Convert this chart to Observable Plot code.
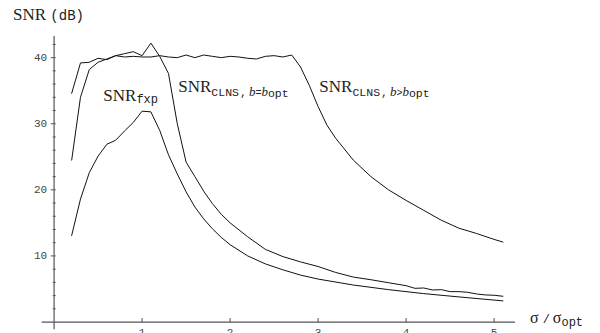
<!DOCTYPE html>
<html><head><meta charset="utf-8">
<script src="https://cdn.jsdelivr.net/npm/d3@7"></script>
<script src="https://cdn.jsdelivr.net/npm/@observablehq/plot@0.6"></script>
<style>body{margin:0;background:#fff} svg{display:block}</style>
</head><body><div id="chart"></div>
<script>
// SNR_fxp
const fxpX = [0.2,0.3,0.4,0.5,0.6,0.7,0.8,0.9,1.0,1.1,1.2,1.3,1.4,1.5,1.6,1.7,1.8,1.9,2.0,2.2,2.4,2.6,2.8,3.0,3.4,3.8,4.2,4.6,5.1];
const fxpY = [13.1,18.6,22.6,25.1,26.9,27.5,28.9,30.2,31.9,31.8,29.0,25.3,22.4,19.7,17.4,15.6,14.1,12.8,11.7,10.0,8.8,7.9,7.1,6.5,5.6,4.9,4.3,3.8,3.2];
// SNR_CLNS, b = b_opt
const optX = [0.2,0.3,0.4,0.5,0.6,0.7,0.8,0.9,1.0,1.1,1.2,1.3,1.4,1.5,1.6,1.7,1.8,1.9,2.0,2.2,2.4,2.6,2.8,3.0,3.2,3.4,3.6,3.8,4.0,4.1,4.2,4.3,4.4,4.5,4.6,4.7,4.8,4.9,5.0,5.1];
const optY = [24.5,34.0,38.2,39.3,39.8,40.3,40.6,40.9,40.3,42.2,40.2,37.6,30.0,24.2,22.0,19.8,17.9,16.3,15.0,12.9,11.0,9.9,9.1,8.4,7.5,6.8,6.4,5.95,5.5,5.1,5.15,4.85,4.9,4.6,4.6,4.5,4.25,4.1,4.05,3.9];
// SNR_CLNS, b > b_opt
const hiX = [0.2,0.3,0.4,0.5,0.6,0.7,0.8,0.9,1.0,1.1,1.2,1.3,1.4,1.5,1.6,1.7,1.8,1.9,2.0,2.1,2.2,2.3,2.4,2.5,2.6,2.7,2.8,2.9,3.0,3.1,3.2,3.4,3.6,3.8,4.0,4.2,4.4,4.6,4.8,5.0,5.1];
const hiY = [34.6,39.2,39.3,39.9,39.7,40.3,40.1,40.2,40.1,40.1,40.3,40.1,40.0,40.4,40.0,40.4,40.2,40.0,40.2,40.1,39.9,39.8,40.2,40.3,40.1,40.4,38.6,35.8,32.6,29.8,27.8,24.5,22.0,20.0,18.4,16.9,15.4,14.2,13.4,12.5,12.1];

const xTicks = [1,2,3,4,5];
const yTicks = [10,20,30,40];
const yMinorTicks = [2,4,6,8,12,14,16,18,22,24,26,28,32,34,36,38,42];

// curve label anchors (data coordinates)
const labelKeys = ["fxp","opt","hi"];
const labelX = [0.565, 1.417, 3.02];
const labelY = [33.4, 34.8, 34.8];

const data = [
  ...fxpX.map((x,i)=>({series:"fxp", x, y:fxpY[i]})),
  ...optX.map((x,i)=>({series:"opt", x, y:optY[i]})),
  ...hiX.map((x,i)=>({series:"hi", x, y:hiY[i]}))
];

const MONO = "'Liberation Mono', 'DejaVu Sans Mono', monospace";
const SERIF = "'Liberation Serif', 'DejaVu Serif', serif";

const svg = Plot.plot({
  width: 600, height: 333,
  marginLeft: 41.7, marginRight: 85, marginTop: 36, marginBottom: 3.8,
  x: {domain: [-0.135, 5.243]},
  y: {domain: [-1.16, 43.2]},
  style: {background: "#fff", color: "#444", fontFamily: MONO},
  marks: [
    Plot.ruleX([0], {stroke: "#555", strokeWidth: 1.2}),
    Plot.ruleY([0], {stroke: "#555", strokeWidth: 1.2}),
    Plot.axisY({ticks: yMinorTicks, anchor: "left", tickSize: 3, dx: 14, tickFormat: () => "", label: null, stroke: "#555"}),
    Plot.axisY({ticks: yTicks, anchor: "left", tickSize: 5, dx: 14, tickPadding: 4, fontSize: 11, fontFamily: MONO, label: null, stroke: "#555", tickFormat: d => String(d)}),
    Plot.axisX({ticks: xTicks, anchor: "bottom", tickSize: 4.5, dy: -11.2, tickPadding: 5, fontSize: 11, fontFamily: MONO, label: null, stroke: "#555", tickFormat: d => String(d)}),
    Plot.line(data, {x: "x", y: "y", z: "series", stroke: "#111", strokeWidth: 1})
  ]
});
document.getElementById("chart").appendChild(svg);

const sx = svg.scale("x"), sy = svg.scale("y");
const root = d3.select(svg);

function addText(x, y) {
  return root.append("text").attr("x", x).attr("y", y).attr("fill", "#222").attr("text-anchor", "start");
}
function span(t, txt, family, size, opts = {}) {
  const s = t.append("tspan").text(txt).attr("font-family", family).attr("font-size", size);
  if (opts.dx) s.attr("dx", opts.dx);
  if (opts.dy) s.attr("dy", opts.dy);
  if (opts.italic) s.attr("font-style", "italic");
  return s;
}

// Title
{
  const t = addText(13, 20);
  span(t, "SNR ", SERIF, 17);
  span(t, "(dB)", MONO, 14);
}
// x-axis label
{
  const t = addText(sx.apply(5.243) + 15, sy.apply(0) + 1.8);
  span(t, "σ", SERIF, 16);
  span(t, "/", MONO, 12, {dx: 4});
  span(t, "σ", SERIF, 16, {dx: 3});
  span(t, "opt", MONO, 12, {dy: 2.5});
}
// Curve labels
labelKeys.forEach((k, i) => {
  const t = addText(sx.apply(labelX[i]), sy.apply(labelY[i]));
  span(t, "SNR", SERIF, 17);
  if (k === "fxp") {
    span(t, "fxp", MONO, 12, {dy: 2});
  } else {
    span(t, "CLNS", MONO, 11.5, {dy: 4});
    span(t, ",", MONO, 11.5, {dx: 1});
    span(t, "b", SERIF, 13, {italic: true, dx: 2});
    span(t, k === "opt" ? "=" : ">", MONO, 10);
    span(t, "b", SERIF, 13, {italic: true});
    span(t, "opt", MONO, 11.5, {dy: 1.5});
  }
});
</script>
</body></html>
